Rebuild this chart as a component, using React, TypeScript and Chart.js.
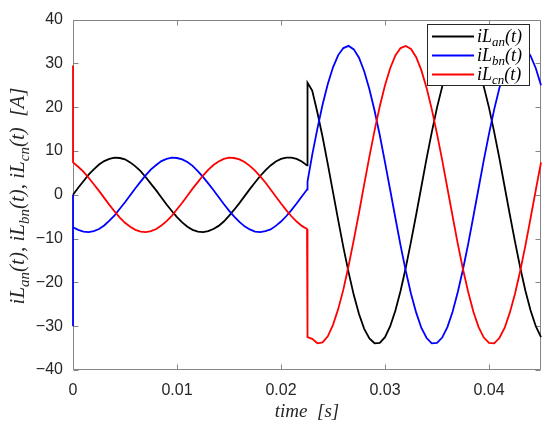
import React, { useEffect, useRef } from 'react';
import { Chart, registerables } from 'chart.js';

Chart.register(...registerables);

// time samples [s] (duplicated stamps mark the vertical jumps)
const time = [
  0, 0, 0, 0.0005, 0.001, 0.0015, 0.002, 0.0025, 0.003, 0.0035, 0.004, 0.0045, 0.005, 0.0055,
  0.006, 0.0065, 0.007, 0.0075, 0.008, 0.0085, 0.009, 0.0095, 0.01, 0.0105, 0.011, 0.0115,
  0.012, 0.0125, 0.013, 0.0135, 0.014, 0.0145, 0.015, 0.0155, 0.016, 0.0165, 0.017, 0.0175,
  0.018, 0.0185, 0.019, 0.0195, 0.02, 0.0205, 0.021, 0.0215, 0.022, 0.0225, 0.02255,
  0.023, 0.0235, 0.024, 0.0245, 0.025, 0.0255, 0.026, 0.0265, 0.027, 0.0275, 0.028, 0.0285,
  0.029, 0.0295, 0.03, 0.0305, 0.031, 0.0315, 0.032, 0.0325, 0.033, 0.0335, 0.034, 0.0345,
  0.035, 0.0355, 0.036, 0.0365, 0.037, 0.0375, 0.038, 0.0385, 0.039, 0.0395, 0.04, 0.0405,
  0.041, 0.0415, 0.042, 0.0425, 0.043, 0.0435, 0.044, 0.0445, 0.045,
];

const iLan = [
  0, 0, 0, 1.6, 3.1, 4.6, 5.8, 6.9, 7.7, 8.2, 8.5, 8.4, 8.1, 7.4, 6.5, 5.4, 4.0, 2.5, 1.0,
  -0.6, -2.2, -3.7, -5.1, -6.3, -7.3, -8.0, -8.4, -8.5, -8.3, -7.8, -7.1, -6.1, -4.8, -3.4,
  -1.9, -0.3, 1.3, 2.8, 4.3, 5.6, 6.7, 7.6, 8.2, 8.5, 8.5, 8.2, 7.6, 6.7,
  25.6,
  23.8, 18.8, 13.2, 7.0, 0.6, -5.8, -12.0, -17.7, -22.9, -27.2, -30.6, -32.8, -33.9, -33.8,
  -32.5, -30.0, -26.4, -21.9, -16.6, -10.7, -4.5, 1.9, 8.3, 14.3, 19.9, 24.7, 28.7, 31.6,
  33.4, 34.0, 33.4, 31.6, 28.7, 24.7, 19.9, 14.3, 8.3, 1.9, -4.5, -10.7, -16.6, -21.9,
  -26.4, -30.0, -32.5,
];

const iLbn = [
  0, -30, -7.4, -8.0, -8.4, -8.5, -8.3, -7.8, -7.0, -5.9, -4.7, -3.2, -1.7, -0.1, 1.5, 3.0,
  4.5, 5.8, 6.8, 7.7, 8.2, 8.5, 8.4, 8.1, 7.5, 6.6, 5.4, 4.1, 2.6, 1.1, -0.5, -2.1, -3.6,
  -5.0, -6.2, -7.2, -7.9, -8.4, -8.5, -8.3, -7.9, -7.1, -6.1, -4.9, -3.5, -2.0, -0.4, 1.2,
  3.0,
  9.1, 15.1, 20.6, 25.3, 29.1, 31.9, 33.5, 34.0, 33.2, 31.3, 28.2, 24.1, 19.2, 13.6, 7.4,
  1.1, -5.3, -11.6, -17.4, -22.6, -26.9, -30.4, -32.7, -33.9, -33.8, -32.6, -30.2, -26.7,
  -22.2, -17.0, -11.2, -4.9, 1.5, 7.9, 13.9, 19.5, 24.4, 28.4, 31.4, 33.3, 34.0, 33.5,
  31.7, 28.9, 25.0,
];

const iLcn = [
  29.5, 7.4, 7.4, 6.4, 5.3, 3.9, 2.4, 0.9, -0.7, -2.3, -3.8, -5.2, -6.4, -7.3, -8.0, -8.4,
  -8.5, -8.3, -7.8, -7.0, -6.0, -4.8, -3.3, -1.8, -0.2, 1.4, 2.9, 4.4, 5.7, 6.8, 7.6, 8.2,
  8.5, 8.4, 8.1, 7.5, 6.6, 5.5, 4.2, 2.8, 1.2, -0.4, -2.0, -3.5, -4.9, -6.1, -7.1, -7.8,
  -32.5,
  -32.9, -33.9, -33.7, -32.3, -29.7, -26.1, -21.6, -16.2, -10.3, -4.1, 2.4, 8.7, 14.7,
  20.2, 25.0, 28.9, 31.8, 33.5, 34.0, 33.3, 31.4, 28.4, 24.4, 19.5, 13.9, 7.9, 1.5, -4.9,
  -11.2, -17.0, -22.2, -26.7, -30.2, -32.6, -33.8, -33.9, -32.7, -30.4, -26.9, -22.6,
  -17.4, -11.6, -5.3, 1.1, 7.4,
];

const xTickValues = [0, 0.01, 0.02, 0.03, 0.04];
const yTickValues = [-40, -30, -20, -10, 0, 10, 20, 30, 40];
const xTitle = 'time  [s]';
// rich text pieces: [text, isSubscript]
const yTitleParts: [string, boolean][] = [
  ['iL', false], ['an', true], ['(t), iL', false], ['bn', true],
  ['(t), iL', false], ['cn', true], ['(t)  [A]', false],
];
const legendLabels: [string, boolean][][] = [
  [['iL', false], ['an', true], ['(t)', false]],
  [['iL', false], ['bn', true], ['(t)', false]],
  [['iL', false], ['cn', true], ['(t)', false]],
];
const seriesColors = ['#000000', '#0000ff', '#ff0000'];

const SERIF = '"Liberation Serif", "Times New Roman", serif';
const SANS = '"Liberation Sans", Arial, Helvetica, sans-serif';
const AXIS_COLOR = '#858585';

function richWidth(ctx: CanvasRenderingContext2D, parts: [string, boolean][], main: string, sub: string) {
  let w = 0;
  for (const [t, s] of parts) {
    ctx.font = s ? sub : main;
    w += ctx.measureText(t).width;
  }
  return w;
}

function drawRich(ctx: CanvasRenderingContext2D, parts: [string, boolean][], x: number, y: number,
  main: string, sub: string, shift: number) {
  let cx = x;
  for (const [t, s] of parts) {
    ctx.font = s ? sub : main;
    ctx.fillText(t, cx, s ? y + shift : y);
    cx += ctx.measureText(t).width;
  }
}

export default function App() {
  const ref = useRef<HTMLCanvasElement>(null);

  useEffect(() => {
    if (!ref.current) return;
    const pts = (ys: number[]) => time.map((t, i) => ({ x: t, y: ys[i] }));

    const overlay = {
      id: 'matlabOverlay',
      beforeDatasetsDraw(chart: any) {
        const { ctx, chartArea: a, scales } = chart;
        const L = Math.round(a.left) + 0.5;
        const R = Math.round(a.right) - 0.5;
        const T = Math.round(a.top) + 0.5;
        const B = Math.round(a.bottom) - 0.5;
        ctx.save();
        ctx.strokeStyle = AXIS_COLOR;
        ctx.lineWidth = 1;
        ctx.beginPath();
        ctx.rect(L, T, R - L, B - T);
        ctx.stroke();
        const tl = 5;
        ctx.beginPath();
        for (const v of xTickValues) {
          const px = Math.round(scales.x.getPixelForValue(v)) + 0.5;
          ctx.moveTo(px, B); ctx.lineTo(px, B - tl);
          ctx.moveTo(px, T); ctx.lineTo(px, T + tl);
        }
        for (const v of yTickValues) {
          const py = Math.round(scales.y.getPixelForValue(v)) + 0.5;
          ctx.moveTo(L, py); ctx.lineTo(L + tl, py);
          ctx.moveTo(R, py); ctx.lineTo(R - tl, py);
        }
        ctx.stroke();
        ctx.restore();
      },
      afterDraw(chart: any) {
        const { ctx } = chart;
        ctx.save();
        // y title (rotated, with subscripts)
        const yMain = `italic 21px ${SERIF}`;
        const ySub = `italic 15px ${SERIF}`;
        const yw = richWidth(ctx, yTitleParts, yMain, ySub);
        ctx.save();
        ctx.translate(24, 196);
        ctx.rotate(-Math.PI / 2);
        ctx.fillStyle = '#262626';
        ctx.textBaseline = 'alphabetic';
        ctx.textAlign = 'left';
        drawRich(ctx, yTitleParts, -yw / 2, 0, yMain, ySub, 5);
        ctx.restore();

        // legend
        const bx = 427.5, by = 24.5, bw = 102, bh = 61;
        ctx.fillStyle = '#ffffff';
        ctx.fillRect(bx, by, bw, bh);
        ctx.strokeStyle = '#262626';
        ctx.lineWidth = 1;
        ctx.strokeRect(bx, by, bw, bh);
        const rows = [36.5, 55.5, 74.5];
        const lMain = `italic 18px ${SERIF}`;
        const lSub = `italic 13px ${SERIF}`;
        legendLabels.forEach((parts, i) => {
          ctx.strokeStyle = seriesColors[i];
          ctx.lineWidth = 1.8;
          ctx.beginPath();
          ctx.moveTo(432, rows[i]);
          ctx.lineTo(474, rows[i]);
          ctx.stroke();
          ctx.fillStyle = '#000000';
          ctx.textBaseline = 'alphabetic';
          ctx.textAlign = 'left';
          drawRich(ctx, parts, 477, rows[i] + 5.5, lMain, lSub, 4);
        });
        ctx.restore();
      },
    };

    const chart = new Chart(ref.current, {
      type: 'line',
      data: {
        datasets: [
          { label: 'iLan(t)', data: pts(iLan), borderColor: seriesColors[0], order: 3, clip: 2 },
          { label: 'iLbn(t)', data: pts(iLbn), borderColor: seriesColors[1], order: 2, clip: 2 },
          { label: 'iLcn(t)', data: pts(iLcn), borderColor: seriesColors[2], order: 1, clip: 2 },
        ],
      },
      options: {
        responsive: false,
        animation: false,
        events: [],
        layout: { padding: { top: 13, right: 9, left: 0, bottom: 0 } },
        elements: {
          point: { radius: 0 },
          line: { borderWidth: 1.8, tension: 0, fill: false },
        },
        plugins: { legend: { display: false }, tooltip: { enabled: false } },
        scales: {
          x: {
            type: 'linear',
            min: 0,
            max: 0.045,
            grid: { display: false, drawTicks: false },
            border: { display: false },
            afterFit: (s: any) => { s.height = 60; },
            ticks: {
              stepSize: 0.01,
              includeBounds: false,
              padding: 11,
              color: '#262626',
              font: { family: SANS, size: 16 },
              maxRotation: 0,
              callback: (v: any) => String(parseFloat(Number(v).toFixed(4))),
            },
            title: {
              display: true,
              text: xTitle,
              color: '#262626',
              font: { family: SERIF, size: 19, style: 'italic' },
              padding: { top: 0, bottom: 6.5 },
            },
          },
          y: {
            type: 'linear',
            min: -40,
            max: 40,
            grid: { display: false, drawTicks: false },
            border: { display: false },
            afterFit: (s: any) => { s.width = 73; },
            ticks: {
              stepSize: 10,
              padding: 10,
              color: '#262626',
              font: { family: SANS, size: 16 },
              callback: (v: any) => String(v).replace('-', '\u2212'),
            },
          },
        },
      },
      plugins: [overlay],
    } as any);

    return () => chart.destroy();
  }, []);

  return (
    <div style={{ position: 'absolute', left: 0, top: 0, width: 550, height: 430, background: '#ffffff' }}>
      <canvas ref={ref} width={550} height={430} style={{ display: 'block' }} />
    </div>
  );
}
